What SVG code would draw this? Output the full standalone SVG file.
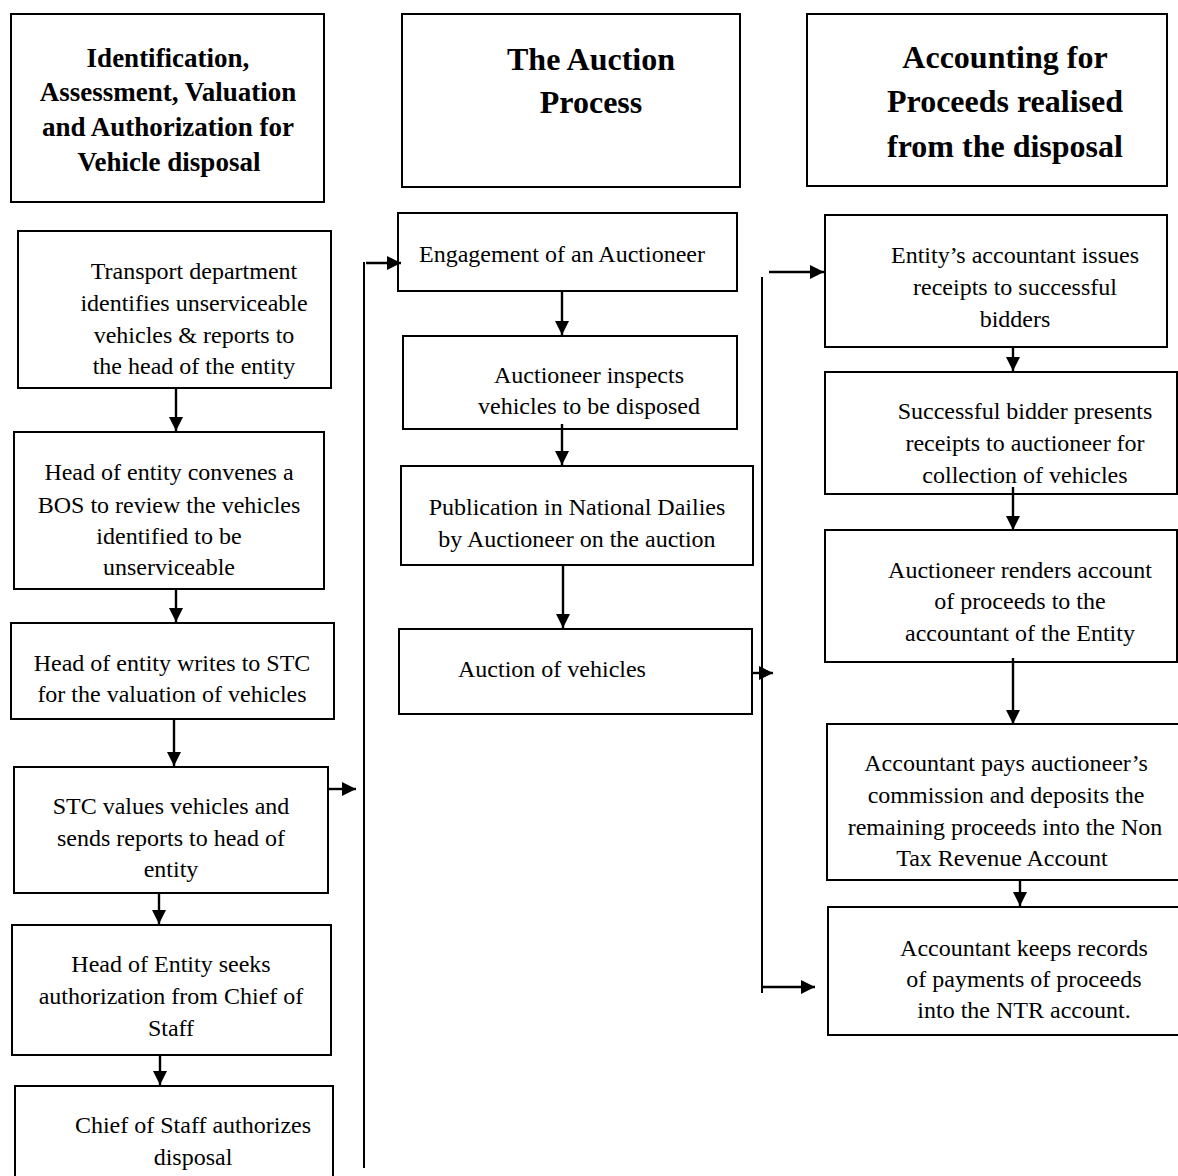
<svg xmlns="http://www.w3.org/2000/svg" width="1178" height="1176" viewBox="0 0 1178 1176">
<style>
  .box { fill: #fff; stroke: #000; stroke-width: 2; }
  .hd { font-family: "Liberation Serif", "Times New Roman", serif; font-weight: bold; fill: #000; text-anchor: middle; }
  .tx { font-family: "Liberation Serif", "Times New Roman", serif; font-size: 24px; fill: #000; text-anchor: middle; }
  .ln { stroke: #000; stroke-width: 2; fill: none; }
  .ar { stroke: #000; stroke-width: 2.4; fill: none; marker-end: url(#ah); }
</style>
<defs>
  <marker id="ah" markerUnits="userSpaceOnUse" markerWidth="14" markerHeight="14" refX="14" refY="7" orient="auto">
    <path d="M0,0 L14,7 L0,14 z" fill="#000"/>
  </marker>
</defs>
<rect width="1178" height="1176" fill="#fff"/>

<g id="hdr-left">
  <rect class="box" x="11" y="14" width="313" height="188"/>
  <text class="hd" font-size="27" x="168" y="67">Identification,</text>
  <text class="hd" font-size="27" x="168" y="101">Assessment, Valuation</text>
  <text class="hd" font-size="27" x="168" y="136">and Authorization for</text>
  <text class="hd" font-size="27" x="169" y="171">Vehicle disposal</text>
</g>
<g id="hdr-mid">
  <rect class="box" x="402" y="14" width="338" height="173"/>
  <text class="hd" font-size="32" x="591" y="70">The Auction</text>
  <text class="hd" font-size="32" x="591" y="113">Process</text>
</g>
<g id="hdr-right">
  <rect class="box" x="807" y="14" width="360" height="172"/>
  <text class="hd" font-size="32" x="1005" y="68">Accounting for</text>
  <text class="hd" font-size="32" x="1005" y="112">Proceeds realised</text>
  <text class="hd" font-size="32" x="1005" y="157">from the disposal</text>
</g>

<g id="n-transport">
  <rect class="box" x="18" y="231" width="313" height="157"/>
  <text class="tx" x="194" y="279">Transport department</text>
  <text class="tx" x="194" y="311">identifies unserviceable</text>
  <text class="tx" x="194" y="343">vehicles &amp; reports to</text>
  <text class="tx" x="194" y="374">the head of the entity</text>
</g>
<g id="n-bos">
  <rect class="box" x="14" y="432" width="310" height="157"/>
  <text class="tx" x="169" y="480">Head of entity convenes a</text>
  <text class="tx" x="169" y="513">BOS to review the vehicles</text>
  <text class="tx" x="169" y="544">identified to be</text>
  <text class="tx" x="169" y="575">unserviceable</text>
</g>
<g id="n-writes-stc">
  <rect class="box" x="11" y="623" width="323" height="96"/>
  <text class="tx" x="172" y="671">Head of entity writes to STC</text>
  <text class="tx" x="172" y="702">for the valuation of vehicles</text>
</g>
<g id="n-stc-values">
  <rect class="box" x="14" y="767" width="314" height="126"/>
  <text class="tx" x="171" y="814">STC values vehicles and</text>
  <text class="tx" x="171" y="846">sends reports to head of</text>
  <text class="tx" x="171" y="877">entity</text>
</g>
<g id="n-seeks-auth">
  <rect class="box" x="12" y="925" width="319" height="130"/>
  <text class="tx" x="171" y="972">Head of Entity seeks</text>
  <text class="tx" x="171" y="1004">authorization from Chief of</text>
  <text class="tx" x="171" y="1036">Staff</text>
</g>
<g id="n-cos-authorizes">
  <rect class="box" x="15" y="1086" width="318" height="100"/>
  <text class="tx" x="193" y="1133">Chief of Staff authorizes</text>
  <text class="tx" x="193" y="1165">disposal</text>
</g>

<g id="n-engagement">
  <rect class="box" x="398" y="213" width="339" height="78"/>
  <text class="tx" x="562" y="262">Engagement of an Auctioneer</text>
</g>
<g id="n-inspects">
  <rect class="box" x="403" y="336" width="334" height="93"/>
  <text class="tx" x="589" y="383">Auctioneer inspects</text>
  <text class="tx" x="589" y="414">vehicles to be disposed</text>
</g>
<g id="n-publication">
  <rect class="box" x="401" y="466" width="352" height="99"/>
  <text class="tx" x="577" y="515">Publication in National Dailies</text>
  <text class="tx" x="577" y="547">by Auctioneer on the auction</text>
</g>
<g id="n-auction">
  <rect class="box" x="399" y="629" width="353" height="85"/>
  <text class="tx" x="552" y="677">Auction of vehicles</text>
</g>

<g id="n-receipts">
  <rect class="box" x="825" y="215" width="342" height="132"/>
  <text class="tx" x="1015" y="263">Entity’s accountant issues</text>
  <text class="tx" x="1015" y="295">receipts to successful</text>
  <text class="tx" x="1015" y="327">bidders</text>
</g>
<g id="n-presents">
  <rect class="box" x="825" y="372" width="352" height="122"/>
  <text class="tx" x="1025" y="419">Successful bidder presents</text>
  <text class="tx" x="1025" y="451">receipts to auctioneer for</text>
  <text class="tx" x="1025" y="483">collection of vehicles</text>
</g>
<g id="n-renders">
  <rect class="box" x="825" y="530" width="352" height="132"/>
  <text class="tx" x="1020" y="578">Auctioneer renders account</text>
  <text class="tx" x="1020" y="609">of proceeds to the</text>
  <text class="tx" x="1020" y="641">accountant of the Entity</text>
</g>
<g id="n-pays">
  <rect class="box" x="827" y="724" width="352" height="156"/>
  <text class="tx" x="1006" y="771">Accountant pays auctioneer’s</text>
  <text class="tx" x="1006" y="803">commission and deposits the</text>
  <text class="tx" x="1005" y="835">remaining proceeds into the Non</text>
  <text class="tx" x="1002" y="866">Tax Revenue Account</text>
</g>
<g id="n-records">
  <rect class="box" x="828" y="907" width="352" height="128"/>
  <text class="tx" x="1024" y="956">Accountant keeps records</text>
  <text class="tx" x="1024" y="987">of payments of proceeds</text>
  <text class="tx" x="1024" y="1018">into the NTR account.</text>
</g>

<g id="connectors">
  <line class="ar" x1="176" y1="388" x2="176" y2="431"/>
  <line class="ar" x1="176" y1="589" x2="176" y2="622"/>
  <line class="ar" x1="174" y1="719" x2="174" y2="766"/>
  <line class="ar" x1="159" y1="893" x2="159" y2="924"/>
  <line class="ar" x1="160" y1="1055" x2="160" y2="1085"/>
  <line class="ar" x1="328" y1="789" x2="356" y2="789"/>
  <line class="ln" x1="364" y1="262" x2="364" y2="1168"/>
  <line class="ar" x1="366" y1="263" x2="401" y2="263"/>
  <line class="ar" x1="562" y1="291" x2="562" y2="335"/>
  <line class="ar" x1="562" y1="424" x2="562" y2="465"/>
  <line class="ar" x1="563" y1="566" x2="563" y2="628"/>
  <line class="ar" x1="752" y1="673" x2="773" y2="673"/>
  <line class="ln" x1="762" y1="277" x2="762" y2="993"/>
  <line class="ar" x1="769" y1="272" x2="824" y2="272"/>
  <line class="ar" x1="762" y1="987" x2="815" y2="987"/>
  <line class="ar" x1="1013" y1="347" x2="1013" y2="371"/>
  <line class="ar" x1="1013" y1="487" x2="1013" y2="530"/>
  <line class="ar" x1="1013" y1="658" x2="1013" y2="724"/>
  <line class="ar" x1="1020" y1="880" x2="1020" y2="906"/>
</g>
</svg>
